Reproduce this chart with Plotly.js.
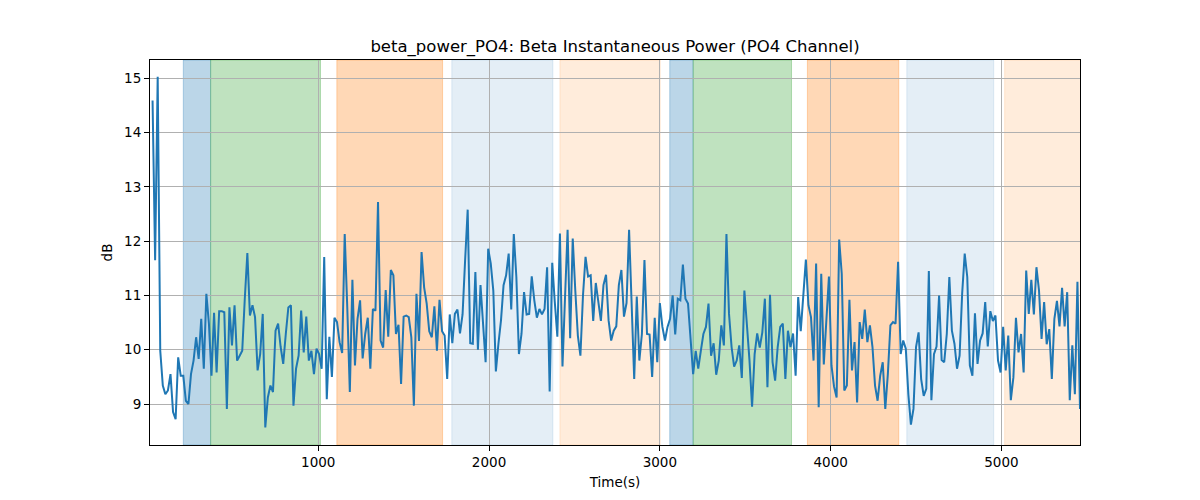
<!DOCTYPE html>
<html>
<head>
<meta charset="utf-8">
<script src="https://cdn.plot.ly/plotly-3.0.1.min.js"></script>
<style>
  html, body { margin: 0; padding: 0; background: #fff; }
  #betaPowerChart { width: 1200px; height: 500px; }
</style>
</head>
<body>
<div id="betaPowerChart"></div>
<script>
// sampling of the beta power trace (seconds)
const startTime = 30;
const stepTime = 15;

// beta instantaneous power, PO4 channel (dB)
const betaPower = [
    14.59, 11.65, 15.03, 9.98, 9.34, 9.18, 9.25, 9.55, 8.85, 8.72,
    9.86, 9.52, 9.52, 9.06, 9.00, 9.55, 9.80, 10.23, 9.83, 10.57,
    9.65, 11.03, 10.48, 9.52, 10.68, 9.58, 10.71, 10.71, 10.69, 8.91,
    10.78, 10.08, 10.82, 9.80, 9.89, 9.98, 10.94, 11.78, 10.63, 10.82,
    10.60, 9.62, 9.92, 10.66, 8.57, 9.12, 9.34, 9.22, 10.35, 10.48,
    10.05, 9.74, 10.29, 10.78, 10.82, 8.97, 9.65, 9.89, 10.72, 9.95,
    10.61, 9.80, 9.98, 9.55, 10.02, 9.92, 9.65, 11.71, 9.09, 10.24,
    9.50, 10.59, 10.51, 10.14, 9.94, 12.13, 10.78, 9.22, 11.29, 9.71,
    10.57, 10.91, 9.84, 10.29, 10.59, 9.65, 10.75, 10.72, 12.72, 10.17,
    10.04, 11.10, 10.24, 11.47, 11.37, 10.29, 10.46, 9.37, 10.61, 10.63,
    10.60, 10.23, 8.97, 11.03, 10.16, 11.80, 11.15, 10.85, 10.34, 10.23,
    10.80, 9.98, 10.92, 10.34, 10.26, 9.46, 10.65, 10.12, 10.66, 10.74,
    10.30, 10.65, 11.65, 12.58, 10.12, 10.11, 11.43, 10.00, 11.19, 10.42,
    9.77, 11.86, 11.59, 11.09, 9.60, 10.11, 10.54, 11.19, 11.37, 11.77,
    10.74, 12.13, 11.34, 9.92, 10.29, 11.06, 10.65, 10.66, 11.35, 10.91,
    10.59, 10.75, 10.65, 10.75, 11.52, 9.23, 11.60, 10.88, 10.24, 12.14,
    9.69, 10.97, 12.21, 10.21, 12.05, 11.09, 10.26, 9.89, 11.00, 11.71,
    11.35, 11.37, 10.53, 11.23, 10.91, 10.53, 11.19, 11.38, 10.54, 10.17,
    10.35, 10.43, 11.19, 11.47, 10.61, 10.86, 12.21, 10.66, 9.46, 10.98,
    9.80, 10.29, 11.65, 10.29, 10.28, 9.50, 10.59, 9.77, 10.86, 10.42,
    10.17, 10.42, 10.57, 11.00, 10.28, 10.94, 10.91, 11.57, 10.94, 10.85,
    10.11, 9.55, 9.98, 9.65, 9.98, 10.29, 10.42, 10.85, 9.89, 10.12,
    9.54, 9.80, 10.45, 10.08, 12.13, 10.66, 10.05, 9.69, 9.80, 10.08,
    9.48, 11.09, 10.45, 9.80, 8.95, 9.92, 10.30, 10.04, 10.32, 10.94,
    9.31, 11.01, 9.77, 9.43, 10.05, 10.42, 10.48, 9.46, 10.35, 10.05,
    10.30, 9.52, 10.97, 10.34, 11.00, 11.66, 10.82, 10.60, 9.80, 11.59,
    8.94, 11.40, 9.73, 10.54, 11.35, 9.71, 9.32, 9.12, 12.03, 11.40,
    9.25, 9.34, 10.92, 9.62, 10.14, 9.03, 10.51, 10.20, 10.74, 10.14,
    10.45, 10.05, 9.34, 9.06, 9.52, 9.77, 8.91, 9.55, 10.45, 10.51,
    10.48, 11.62, 9.92, 10.17, 10.02, 9.18, 8.62, 8.91, 10.05, 10.32,
    9.46, 9.15, 9.28, 11.45, 9.07, 9.92, 10.06, 11.00, 9.81, 9.77,
    10.29, 11.34, 10.35, 10.11, 9.65, 9.89, 11.03, 11.77, 11.34, 9.71,
    9.52, 10.67, 9.74, 10.17, 10.30, 10.88, 10.06, 10.71, 10.53, 10.63,
    9.80, 9.58, 10.42, 9.62, 10.26, 9.07, 9.49, 10.59, 9.95, 10.29,
    9.58, 11.46, 10.66, 11.29, 10.65, 11.52, 11.09, 10.20, 10.88, 10.10,
    10.38, 9.46, 10.57, 10.90, 10.43, 11.14, 10.43, 11.06, 9.07, 10.08,
    9.18, 11.25, 8.91
];

// task phases shaded behind the trace (seconds)
const phaseStart = [210, 370, 1109, 1782, 2415, 3058, 3195, 3864, 4446, 5019];
const phaseEnd   = [370, 1013, 1728, 2374, 3002, 3195, 3771, 4399, 4955, 5500];
const phaseKind  = ["blue", "green", "orange", "paleBlue", "paleOrange",
                    "blue", "green", "orange", "paleBlue", "paleOrange"];

const phaseColours = {
    blue: "rgba(31,119,180,0.30)",
    green: "rgba(44,160,44,0.30)",
    orange: "rgba(255,127,14,0.30)",
    paleBlue: "rgba(31,119,180,0.12)",
    paleOrange: "rgba(255,127,14,0.15)"
};

const times = betaPower.map((_, i) => startTime + stepTime * i);

const baseFont = { family: "DejaVu Sans, sans-serif", size: 13.5, color: "#000" };

const data = [{
    x: times,
    y: betaPower,
    type: "scatter",
    mode: "lines",
    line: { color: "#1f77b4", width: 2 },
    hovertemplate: "%{x}s<br>%{y:.2f} dB<extra></extra>"
}];

const shapes = phaseStart.map((x0, i) => ({
    type: "rect",
    xref: "x",
    yref: "paper",
    x0: x0,
    x1: phaseEnd[i],
    y0: 0,
    y1: 1,
    fillcolor: phaseColours[phaseKind[i]],
    line: { color: phaseColours[phaseKind[i]], width: 1 },
    layer: "below"
}));

const axisCommon = {
    showline: true,
    mirror: true,
    linecolor: "#000",
    linewidth: 1,
    ticks: "outside",
    ticklen: 5,
    tickwidth: 1,
    tickcolor: "#000",
    showgrid: true,
    gridcolor: "#b0b0b0",
    gridwidth: 0.8,
    zeroline: false,
    tickfont: baseFont
};

const layout = {
    width: 1200,
    height: 500,
    margin: { l: 150, r: 120, t: 60, b: 55 },
    paper_bgcolor: "#fff",
    plot_bgcolor: "rgba(0,0,0,0)",
    font: baseFont,
    showlegend: false,
    title: {
        text: "beta_power_PO4: Beta Instantaneous Power (PO4 Channel)",
        font: { family: "DejaVu Sans, sans-serif", size: 16.5, color: "#000" },
        x: 0.5,
        xanchor: "center",
        xref: "paper",
        y: 0.908,
        yref: "container",
        yanchor: "middle"
    },
    xaxis: Object.assign({}, axisCommon, {
        range: [15, 5460],
        tickvals: [1000, 2000, 3000, 4000, 5000],
        title: { text: "Time(s)", font: baseFont, standoff: 8 }
    }),
    yaxis: Object.assign({}, axisCommon, {
        range: [8.245, 15.337],
        tickvals: [9, 10, 11, 12, 13, 14, 15],
        title: { text: "dB", font: baseFont, standoff: 8 }
    }),
    shapes: shapes
};

Plotly.newPlot("betaPowerChart", data, layout, { displayModeBar: false, responsive: false });
</script>
</body>
</html>
